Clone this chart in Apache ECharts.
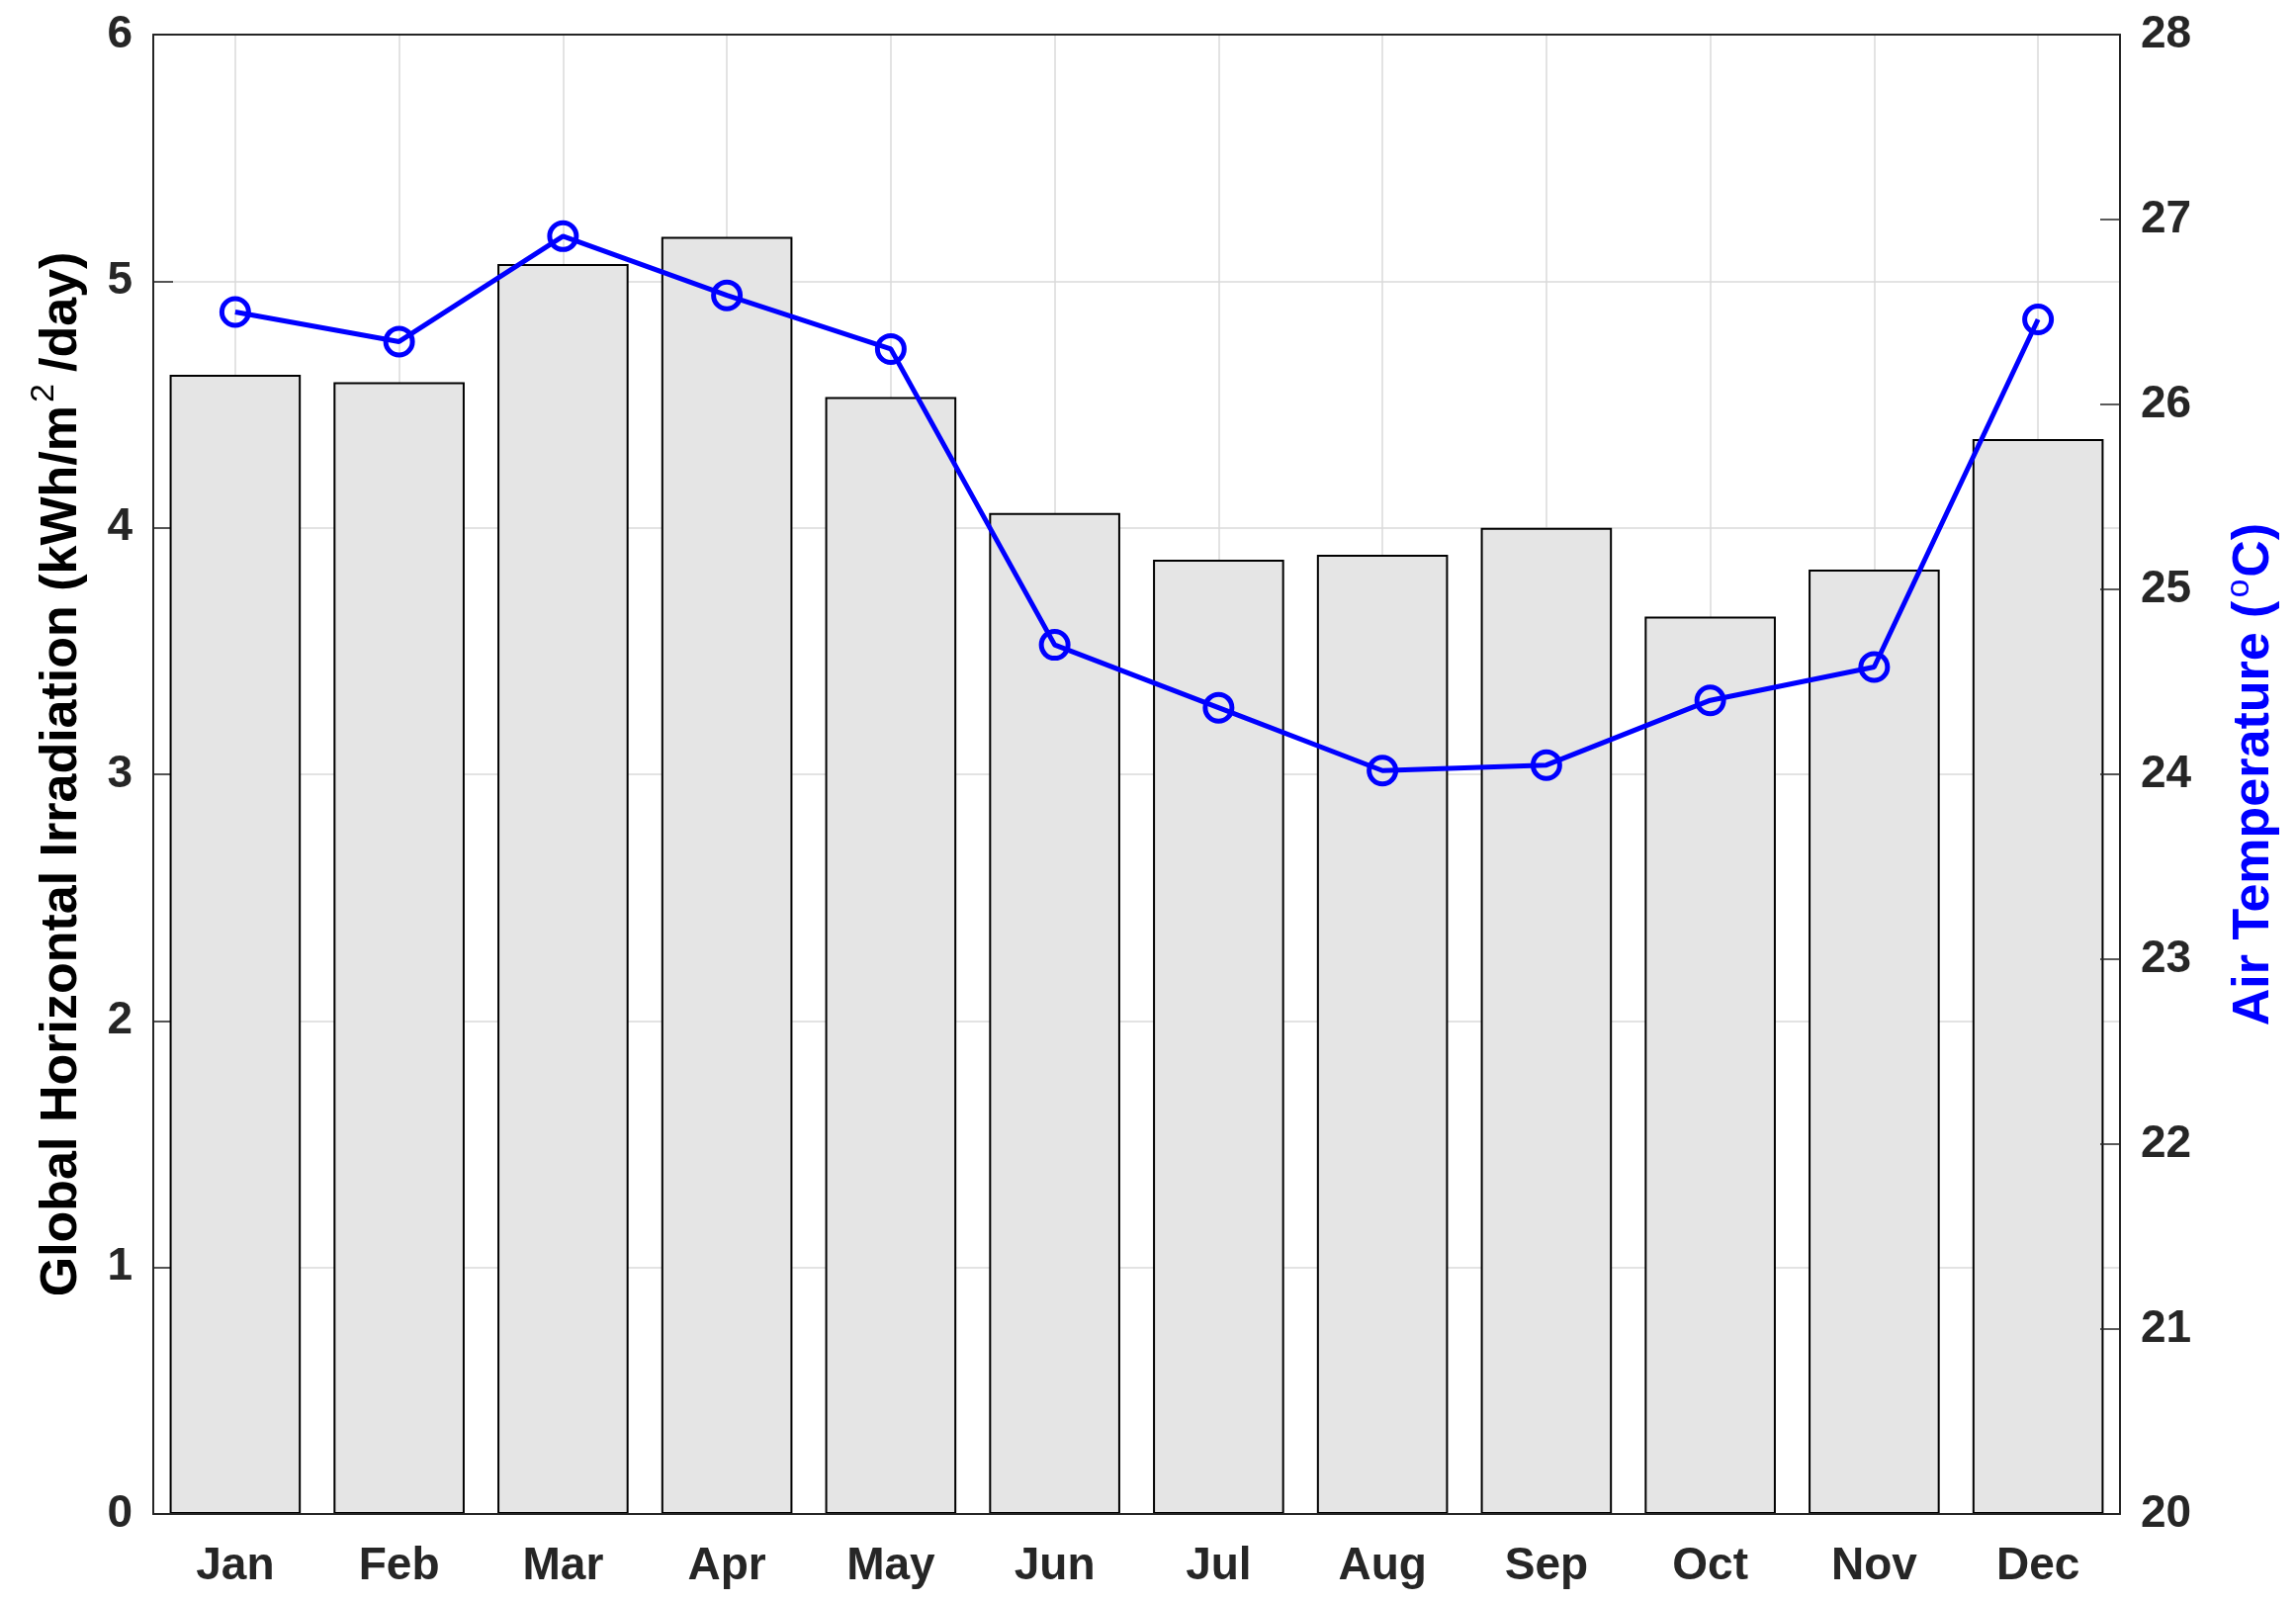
<!DOCTYPE html>
<html>
<head>
<meta charset="utf-8">
<script src="https://cdn.jsdelivr.net/npm/echarts@6/dist/echarts.min.js"></script>
<style>
  html, body { margin: 0; padding: 0; background: #fff; }
  #chart { width: 2322px; height: 1621px; }
</style>
</head>
<body>
<div id="chart"></div>
<script>
  // monthly values
  const months = ['Jan', 'Feb', 'Mar', 'Apr', 'May', 'Jun', 'Jul', 'Aug', 'Sep', 'Oct', 'Nov', 'Dec']
  const irradiation = [4.62, 4.59, 5.07, 5.18, 4.53, 4.06, 3.87, 3.89, 4.00, 3.64, 3.83, 4.36]
  const airTemp = [26.50, 26.34, 26.91, 26.59, 26.30, 24.70, 24.36, 24.02, 24.05, 24.40, 24.58, 26.46]

  const font = '"Liberation Sans", Arial, Helvetica, sans-serif'
  const axisColor = '#262626'
  const gridColor = '#dadada'

  const chart = echarts.init(document.getElementById('chart'))

  const option = {
    backgroundColor: '#fff',
    animation: false,
    grid: {
      left: 155,
      right: 178,
      top: 35,
      bottom: 90,
    },
    xAxis: [{
      type: 'category',
      data: months,
      position: 'bottom',
      z: 10,
      axisLine: {
        lineStyle: { color: axisColor, width: 2 },
      },
      axisTick: {
        inside: true,
        alignWithLabel: true,
        length: 20,
        lineStyle: { color: axisColor, width: 1.5 },
      },
      axisLabel: {
        margin: 30,
        interval: 0,
        fontFamily: font,
        fontWeight: 'bold',
        fontSize: 46,
        color: axisColor,
      },
      splitLine: { show: false },
    }, {
      type: 'category',
      data: months,
      position: 'top',
      axisLine: {
        lineStyle: { color: axisColor, width: 2 },
      },
      axisTick: {
        inside: true,
        alignWithLabel: true,
        length: 20,
        lineStyle: { color: axisColor, width: 1.5 },
      },
      axisLabel: { show: false },
      splitLine: {
        show: true,
        interval: 0,
        alignWithLabel: true,
        lineStyle: { color: gridColor, width: 1.5 },
      },
    }],
    yAxis: [{
      type: 'value',
      min: 0,
      max: 6,
      interval: 1,
      position: 'left',
      name: 'Global Horizontal Irradiation (kWh/m{sup|2}/day)',
      nameLocation: 'middle',
      nameGap: 57,
      nameTextStyle: {
        fontFamily: font,
        fontWeight: 'bold',
        fontSize: 52,
        color: '#000',
        rich: {
          sup: {
            fontFamily: font,
            fontWeight: 'normal',
            fontSize: 34,
            color: '#000',
            verticalAlign: 'top',
            padding: [0, 12, 36, 3],
          },
        },
      },
      axisLine: {
        show: true,
        lineStyle: { color: axisColor, width: 2 },
      },
      axisTick: {
        show: true,
        inside: true,
        length: 20,
        lineStyle: { color: axisColor, width: 1.5 },
      },
      axisLabel: {
        margin: 21,
        fontFamily: font,
        fontWeight: 'bold',
        fontSize: 46,
        color: axisColor,
      },
      splitLine: {
        show: true,
        lineStyle: { color: gridColor, width: 1.5 },
      },
    }, {
      type: 'value',
      min: 20,
      max: 28,
      interval: 1,
      position: 'right',
      z: 10,
      name: 'Air Temperature ({sup|o}C)',
      nameLocation: 'middle',
      nameGap: 104,
      nameTextStyle: {
        fontFamily: font,
        fontWeight: 'bold',
        fontSize: 52,
        color: '#0000ff',
        rich: {
          sup: {
            fontFamily: font,
            fontWeight: 'normal',
            fontSize: 34,
            color: '#0000ff',
            verticalAlign: 'top',
            padding: [0, 2, 30, 3],
          },
        },
      },
      axisLine: {
        show: true,
        lineStyle: { color: axisColor, width: 2 },
      },
      axisTick: {
        show: true,
        inside: true,
        length: 20,
        lineStyle: { color: axisColor, width: 1.5 },
      },
      axisLabel: {
        margin: 21,
        fontFamily: font,
        fontWeight: 'bold',
        fontSize: 46,
        color: axisColor,
      },
      splitLine: { show: false },
    }],
    series: [{
      name: 'Global Horizontal Irradiation',
      type: 'bar',
      xAxisIndex: 0,
      yAxisIndex: 0,
      data: irradiation,
      barWidth: '80%',
      itemStyle: {
        color: '#e5e5e5',
        borderColor: '#000',
        borderWidth: 2,
      },
    }, {
      name: 'Air Temperature',
      type: 'line',
      xAxisIndex: 0,
      yAxisIndex: 1,
      data: airTemp,
      z: 5,
      symbol: 'circle',
      symbolSize: 27,
      lineStyle: { color: '#0000ff', width: 5 },
      itemStyle: {
        color: 'rgba(0,0,0,0)',
        borderColor: '#0000ff',
        borderWidth: 5,
      },
    }],
  }

  chart.setOption(option)
</script>
</body>
</html>
